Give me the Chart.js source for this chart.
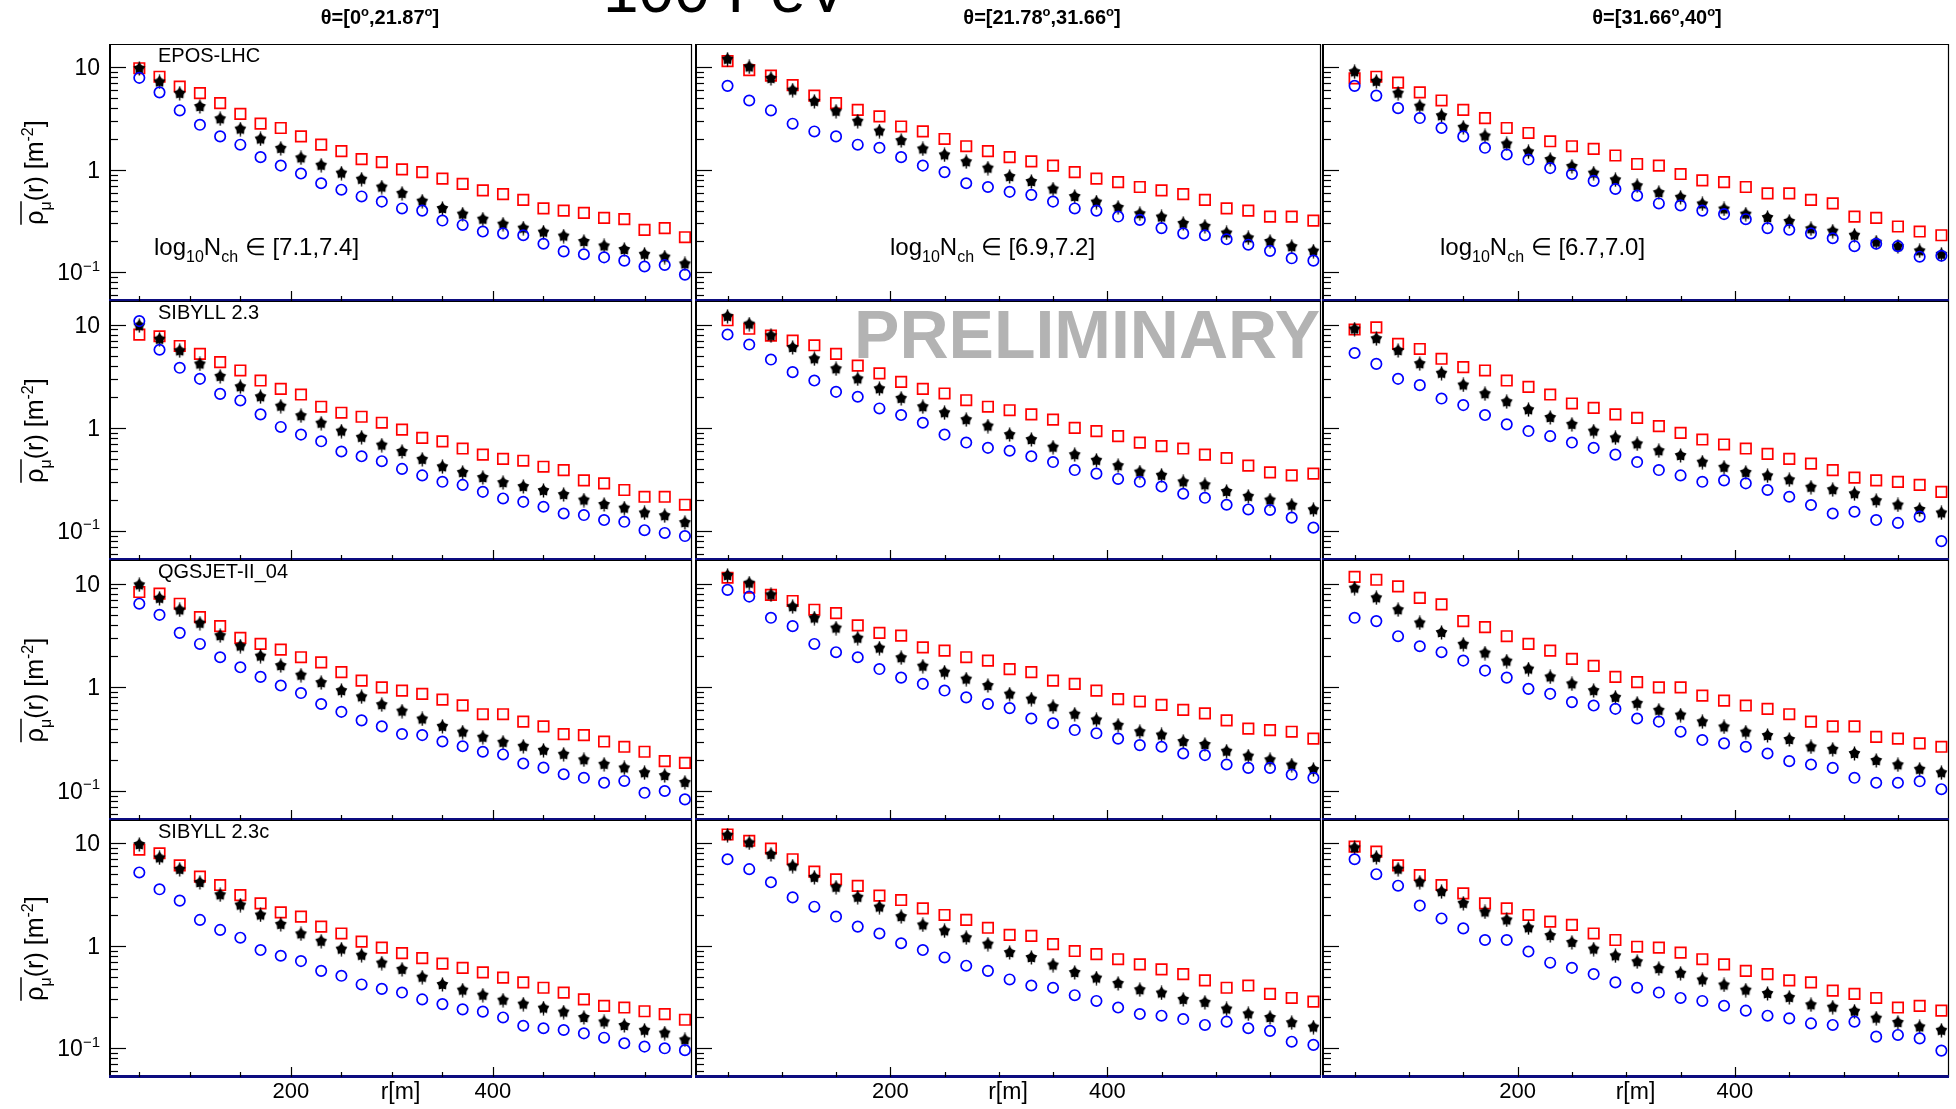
<!DOCTYPE html>
<html>
<head>
<meta charset="utf-8">
<script src="https://cdn.jsdelivr.net/npm/chart.js@4.4.1/dist/chart.umd.min.js"></script>
<style>
  html, body { margin: 0; padding: 0; background: #fff; }
  #page { position: relative; width: 1956px; height: 1109px; overflow: hidden; background: #fff; }
  #page canvas { position: absolute; }
</style>
</head>
<body>
<div id="page"></div>
<script>
// r [m] of every bin
const rBins = [50, 70, 90, 110, 130, 150, 170, 190, 210, 230, 250, 270, 290, 310, 330, 350, 370, 390, 410, 430, 450, 470, 490, 510, 530, 550, 570, 590];

const models = ['EPOS-LHC', 'SIBYLL 2.3', 'QGSJET-II_04', 'SIBYLL 2.3c'];
const thetaLo = ['0', '21.78', '31.66'];
const thetaHi = ['21.87', '31.66', '40'];
const nchBins = ['[7.1,7.4]', '[6.9,7.2]', '[6.7,7.0]'];
const yTickLabels = [[10, '10'], [1, '1'], [0.1, '10', '\u22121']];
const xTickLabels = [200, 400];

// measured muon density (black stars), one per zenith bin
const dataTheta1 = [9.75, 7.22, 5.58, 4.15, 3.15, 2.50, 2.00, 1.62, 1.31, 1.11, 0.93, 0.81, 0.68, 0.59, 0.495, 0.42, 0.37, 0.33, 0.295, 0.27, 0.247, 0.226, 0.20, 0.181, 0.167, 0.150, 0.141, 0.121];
const dataTheta2 = [12.0, 10.1, 7.8, 6.0, 4.66, 3.73, 2.98, 2.39, 1.93, 1.60, 1.40, 1.20, 1.04, 0.86, 0.77, 0.65, 0.55, 0.485, 0.43, 0.373, 0.347, 0.30, 0.281, 0.242, 0.217, 0.20, 0.178, 0.161];
const dataTheta3 = [9.05, 7.3, 5.6, 4.18, 3.38, 2.60, 2.14, 1.79, 1.50, 1.26, 1.08, 0.93, 0.80, 0.70, 0.60, 0.54, 0.465, 0.415, 0.37, 0.343, 0.314, 0.266, 0.252, 0.23, 0.197, 0.179, 0.162, 0.15];

// red squares, per zenith bin
const ironEPOS = [
  [9.8, 8.1, 6.5, 5.6, 4.47, 3.52, 2.82, 2.56, 2.12, 1.76, 1.52, 1.27, 1.19, 1.01, 0.95, 0.82, 0.73, 0.63, 0.58, 0.51, 0.42, 0.40, 0.38, 0.34, 0.33, 0.26, 0.27, 0.22],
  [11.5, 9.4, 8.3, 6.7, 5.3, 4.47, 3.85, 3.32, 2.65, 2.37, 2.00, 1.70, 1.52, 1.33, 1.21, 1.10, 0.95, 0.82, 0.76, 0.68, 0.63, 0.58, 0.51, 0.42, 0.40, 0.35, 0.35, 0.32],
  [7.8, 8.1, 7.1, 5.7, 4.75, 3.85, 3.2, 2.56, 2.29, 1.90, 1.70, 1.60, 1.38, 1.14, 1.10, 0.91, 0.79, 0.76, 0.68, 0.59, 0.59, 0.51, 0.47, 0.35, 0.34, 0.28, 0.25, 0.23]
];
const ironSIBYLL23 = [
  [8.0, 7.7, 6.2, 5.2, 4.32, 3.59, 2.87, 2.38, 2.10, 1.60, 1.40, 1.28, 1.12, 0.96, 0.80, 0.74, 0.63, 0.55, 0.50, 0.48, 0.42, 0.39, 0.31, 0.29, 0.25, 0.215, 0.215, 0.18],
  [11.0, 9.1, 7.8, 7.0, 6.3, 5.2, 4.0, 3.36, 2.79, 2.38, 2.15, 1.85, 1.60, 1.48, 1.35, 1.20, 1.0, 0.93, 0.83, 0.72, 0.665, 0.63, 0.55, 0.51, 0.43, 0.37, 0.346, 0.36],
  [8.95, 9.4, 6.5, 5.8, 4.66, 3.87, 3.59, 2.87, 2.49, 2.10, 1.72, 1.56, 1.35, 1.25, 1.04, 0.895, 0.77, 0.69, 0.63, 0.56, 0.50, 0.45, 0.39, 0.33, 0.31, 0.30, 0.28, 0.24]
];
const ironQGSJET = [
  [8.3, 8.0, 6.4, 4.75, 3.89, 3.0, 2.62, 2.31, 1.95, 1.74, 1.40, 1.16, 1.0, 0.93, 0.865, 0.76, 0.67, 0.55, 0.55, 0.467, 0.42, 0.354, 0.346, 0.30, 0.267, 0.239, 0.194, 0.187],
  [11.4, 9.15, 7.8, 6.8, 5.6, 5.2, 3.95, 3.35, 3.15, 2.43, 2.26, 1.95, 1.81, 1.50, 1.40, 1.16, 1.08, 0.93, 0.77, 0.73, 0.676, 0.605, 0.56, 0.48, 0.40, 0.387, 0.373, 0.32],
  [11.6, 10.9, 9.4, 7.3, 6.3, 4.35, 3.80, 3.11, 2.62, 2.26, 1.88, 1.61, 1.26, 1.12, 1.0, 1.0, 0.83, 0.745, 0.667, 0.62, 0.55, 0.467, 0.42, 0.42, 0.333, 0.32, 0.288, 0.267]
];
const ironSIBYLL23c = [
  [8.7, 8.0, 6.1, 4.73, 3.92, 3.13, 2.60, 2.12, 1.93, 1.54, 1.32, 1.10, 0.96, 0.85, 0.76, 0.67, 0.61, 0.55, 0.49, 0.44, 0.39, 0.35, 0.30, 0.26, 0.25, 0.23, 0.216, 0.19],
  [12.2, 10.6, 8.9, 7.0, 5.3, 4.46, 3.84, 3.09, 2.80, 2.32, 2.00, 1.79, 1.50, 1.28, 1.25, 1.04, 0.89, 0.83, 0.74, 0.66, 0.59, 0.53, 0.46, 0.39, 0.41, 0.34, 0.31, 0.285],
  [9.3, 8.3, 6.1, 4.91, 3.92, 3.25, 2.60, 2.32, 2.00, 1.72, 1.60, 1.32, 1.14, 0.98, 0.96, 0.86, 0.74, 0.66, 0.57, 0.53, 0.46, 0.44, 0.365, 0.34, 0.31, 0.25, 0.26, 0.233]
];

// blue circles, per zenith bin
const protonEPOS = [
  [7.9, 5.7, 3.8, 2.75, 2.12, 1.76, 1.33, 1.10, 0.92, 0.74, 0.64, 0.55, 0.49, 0.42, 0.40, 0.32, 0.29, 0.25, 0.24, 0.23, 0.19, 0.16, 0.15, 0.14, 0.13, 0.114, 0.118, 0.095],
  [6.6, 4.75, 3.8, 2.82, 2.37, 2.12, 1.76, 1.64, 1.33, 1.10, 0.95, 0.74, 0.68, 0.61, 0.57, 0.49, 0.42, 0.40, 0.35, 0.325, 0.27, 0.24, 0.23, 0.21, 0.186, 0.162, 0.137, 0.13],
  [6.6, 5.3, 4.0, 3.2, 2.56, 2.12, 1.64, 1.41, 1.26, 1.04, 0.91, 0.78, 0.65, 0.56, 0.47, 0.45, 0.40, 0.37, 0.33, 0.27, 0.26, 0.24, 0.215, 0.18, 0.19, 0.18, 0.142, 0.145]
];
const protonSIBYLL23 = [
  [10.8, 5.7, 3.81, 2.98, 2.13, 1.84, 1.35, 1.02, 0.86, 0.74, 0.59, 0.53, 0.475, 0.40, 0.346, 0.30, 0.28, 0.24, 0.207, 0.192, 0.172, 0.148, 0.143, 0.128, 0.123, 0.102, 0.096, 0.0895],
  [8.0, 6.4, 4.58, 3.46, 2.87, 2.23, 2.0, 1.54, 1.33, 1.12, 0.86, 0.72, 0.64, 0.60, 0.53, 0.466, 0.39, 0.36, 0.32, 0.30, 0.27, 0.23, 0.21, 0.18, 0.162, 0.16, 0.135, 0.108],
  [5.3, 4.16, 2.98, 2.59, 1.92, 1.66, 1.33, 1.08, 0.93, 0.83, 0.72, 0.64, 0.55, 0.466, 0.39, 0.346, 0.30, 0.31, 0.29, 0.25, 0.215, 0.179, 0.148, 0.154, 0.128, 0.12, 0.138, 0.08]
];
const protonQGSJET = [
  [6.4, 5.0, 3.35, 2.62, 1.95, 1.56, 1.26, 1.04, 0.88, 0.69, 0.58, 0.48, 0.42, 0.354, 0.346, 0.30, 0.27, 0.239, 0.225, 0.184, 0.168, 0.145, 0.134, 0.12, 0.125, 0.096, 0.1, 0.083],
  [8.7, 7.5, 4.68, 3.89, 2.62, 2.18, 1.95, 1.50, 1.24, 1.08, 0.93, 0.80, 0.69, 0.63, 0.50, 0.45, 0.387, 0.36, 0.32, 0.277, 0.267, 0.23, 0.222, 0.18, 0.167, 0.167, 0.144, 0.134],
  [4.68, 4.35, 3.11, 2.49, 2.18, 1.81, 1.45, 1.24, 0.966, 0.865, 0.72, 0.667, 0.62, 0.50, 0.467, 0.373, 0.31, 0.288, 0.267, 0.23, 0.194, 0.18, 0.167, 0.134, 0.12, 0.12, 0.124, 0.104]
];
const protonSIBYLL23c = [
  [5.2, 3.56, 2.76, 1.79, 1.43, 1.20, 0.91, 0.80, 0.71, 0.57, 0.51, 0.42, 0.38, 0.35, 0.30, 0.27, 0.24, 0.228, 0.20, 0.166, 0.157, 0.151, 0.14, 0.127, 0.112, 0.104, 0.1, 0.096],
  [7.0, 5.6, 4.17, 2.97, 2.41, 1.93, 1.54, 1.32, 1.06, 0.91, 0.77, 0.64, 0.57, 0.47, 0.41, 0.39, 0.33, 0.29, 0.25, 0.216, 0.208, 0.193, 0.169, 0.182, 0.157, 0.148, 0.116, 0.108],
  [7.0, 5.0, 3.86, 2.47, 1.85, 1.48, 1.14, 1.14, 0.88, 0.685, 0.61, 0.53, 0.44, 0.39, 0.35, 0.31, 0.29, 0.26, 0.233, 0.208, 0.196, 0.175, 0.169, 0.182, 0.13, 0.135, 0.125, 0.095]
];

const measured = [dataTheta1, dataTheta2, dataTheta3];
const ironByModel = [ironEPOS, ironSIBYLL23, ironQGSJET, ironSIBYLL23c];
const protonByModel = [protonEPOS, protonSIBYLL23, protonQGSJET, protonSIBYLL23c];

// pad geometry (page px)
const COL_L = [109, 695, 1322];
const COL_R = [692, 1321, 1949];
const ROW_T = [44, 301, 560, 820];
const ROW_B = [301, 560, 820, 1077];
const TITLE_X = [380, 1042, 1657];
const NCH_X = [154, 890, 1440];

const FONT = '"Liberation Sans", Arial, Helvetica, sans-serif';

const starMarker = (function () {
  const size = 15;
  const c = document.createElement('canvas');
  c.width = size;
  c.height = size;
  const g = c.getContext('2d');
  const m = size / 2;
  g.fillStyle = '#000';
  g.beginPath();
  for (let i = 0; i < 10; i++) {
    const a = -Math.PI / 2 + i * Math.PI / 5;
    const rr = i % 2 ? 4.1 : 6.2;
    g.lineTo(m + rr * Math.cos(a), m + rr * Math.sin(a));
  }
  g.closePath();
  g.fill();
  g.fillRect(m - 0.7, 0.5, 1.4, size - 1);
  return c;
})();

function richText(ctx, parts, x, y, size, align, bold) {
  const w8 = bold ? 'bold ' : '';
  const fontFor = k => w8 + (k ? Math.round(size * 0.65) : size) + 'px ' + FONT;
  let w = 0;
  for (const [t, k] of parts) {
    ctx.font = fontFor(k);
    w += ctx.measureText(t).width;
  }
  let cx = align === 'center' ? x - w / 2 : align === 'right' ? x - w : x;
  const start = cx;
  const widths = [];
  for (const [t, k] of parts) {
    ctx.font = fontFor(k);
    const dy = k === 'sub' ? size * 0.3 : k === 'sup' ? -size * 0.42 : 0;
    ctx.fillText(t, cx, y + dy);
    const tw = ctx.measureText(t).width;
    widths.push(tw);
    cx += tw;
  }
  return { start, widths };
}

function hline(ctx, x1, x2, y) {
  ctx.beginPath(); ctx.moveTo(x1, y); ctx.lineTo(x2, y); ctx.stroke();
}
function vline(ctx, x, y1, y2) {
  ctx.beginPath(); ctx.moveTo(x, y1); ctx.lineTo(x, y2); ctx.stroke();
}

const rootPad = {
  id: 'rootPad',
  afterDraw(chart, args, o) {
    const { ctx, chartArea: a, scales: { x, y } } = chart;
    ctx.save();
    ctx.textBaseline = 'alphabetic';
    ctx.fillStyle = '#000';
    ctx.strokeStyle = '#000';

    // frame
    ctx.lineWidth = 1.2;
    hline(ctx, a.left, a.right, a.top + 0.5);
    vline(ctx, a.right - 0.5, a.top, a.bottom);
    ctx.lineWidth = 2;
    vline(ctx, a.left + 1, a.top, a.bottom);
    ctx.strokeStyle = '#0c0c80';
    ctx.lineWidth = 3;
    hline(ctx, a.left, a.right, a.bottom - 0.5);
    ctx.strokeStyle = '#000';

    // log y ticks, inside
    ctx.lineWidth = 1.2;
    for (let e = -2; e <= 1; e++) {
      for (let d = 1; d <= 9; d++) {
        const v = d * Math.pow(10, e);
        if (v < y.min || v > y.max) continue;
        const py = Math.round(y.getPixelForValue(v)) + 0.5;
        hline(ctx, a.left, a.left + (d === 1 ? 17 : 9), py);
      }
    }
    // x ticks, inside
    for (let v = 50; v < x.max; v += 50) {
      const px = Math.round(x.getPixelForValue(v)) + 0.5;
      vline(ctx, px, a.bottom - (v % 200 === 0 ? 10 : 5), a.bottom);
    }

    // y tick labels and title on the first column
    if (o.col === 0) {
      for (const [v, t, sup] of yTickLabels) {
        const py = y.getPixelForValue(v) + 8;
        richText(ctx, sup ? [[t, ''], [sup, 'sup']] : [[t, '']], a.left - 9, py, 23, 'right');
      }
      ctx.save();
      ctx.translate(43, (a.top + a.bottom) / 2);
      ctx.rotate(-Math.PI / 2);
      const res = richText(ctx, [['\u03c1', ''], ['\u03bc', 'sub'], ['(r) [m', ''], ['-2', 'sup'], [']', '']], 0, 0, 25, 'center');
      ctx.lineWidth = 1.5;
      hline(ctx, res.start, res.start + res.widths[0] + res.widths[1], -22);
      ctx.restore();
      richText(ctx, [[models[o.row], '']], a.left + 49, a.top + 18, 20, 'left');
    }

    // x tick labels on the last row
    if (o.row === 3) {
      for (const v of xTickLabels) {
        richText(ctx, [[String(v), '']], x.getPixelForValue(v), a.bottom + 21, 22, 'center');
      }
      richText(ctx, [['r[m]', '']], (a.left + a.right) / 2, a.bottom + 22, 23, 'center');
    }

    // texts placed in page coordinates
    ctx.translate(-o.left, -o.top);
    if (o.row === 0) {
      richText(ctx, [['\u03b8=[' + thetaLo[o.col], ''], ['o', 'sup'], [',' + thetaHi[o.col], ''], ['o', 'sup'], [']', '']],
        TITLE_X[o.col], 24, 20, 'center', true);
      richText(ctx, [['log', ''], ['10', 'sub'], ['N', ''], ['ch', 'sub'], [' \u2208 ' + nchBins[o.col], '']],
        NCH_X[o.col], 255, 24, 'left');
      if (o.col === 0) {
        richText(ctx, [['100 PeV', '']], 603, 12, 64, 'left');
      }
    }
    if (o.row === 1 && o.col === 1) {
      ctx.fillStyle = '#b3b3b3';
      richText(ctx, [['PRELIMINARY', '']], 1320, 358, 68, 'right', true);
    }
    ctx.restore();
  }
};

function points(vals) {
  return vals.map((v, i) => ({ x: rBins[i], y: v }));
}

function makePad(row, col) {
  const page = document.getElementById('page');
  const left = col === 0 ? 0 : COL_L[col] - 3;
  const right = col === 2 ? 1956 : (row === 0 && col === 0 ? 900 : COL_R[col] + 3);
  const top = row === 0 ? 0 : ROW_T[row] - 3;
  const bottom = row === 3 ? 1109 : ROW_B[row] + 3;
  const cv = document.createElement('canvas');
  cv.width = right - left;
  cv.height = bottom - top;
  cv.style.left = left + 'px';
  cv.style.top = top + 'px';
  cv.style.width = (right - left) + 'px';
  cv.style.height = (bottom - top) + 'px';
  page.appendChild(cv);

  new Chart(cv, {
    type: 'scatter',
    data: {
      datasets: [
        {
          data: points(protonByModel[row][col]),
          pointStyle: 'circle',
          pointRadius: 5.2,
          borderColor: '#0000ff',
          backgroundColor: 'rgba(0,0,0,0)',
          borderWidth: 1.7
        },
        {
          data: points(measured[col]),
          pointStyle: starMarker,
          pointRadius: 6
        },
        {
          data: points(ironByModel[row][col]),
          pointStyle: 'rect',
          pointRadius: 7.4,
          borderColor: '#ff0000',
          backgroundColor: 'rgba(0,0,0,0)',
          borderWidth: 1.7
        }
      ]
    },
    options: {
      responsive: false,
      animation: false,
      events: [],
      layout: {
        autoPadding: false,
        padding: {
          left: COL_L[col] - left,
          right: right - COL_R[col],
          top: ROW_T[row] - top,
          bottom: bottom - ROW_B[row]
        }
      },
      scales: {
        x: { type: 'linear', min: 20, max: 597, display: false },
        y: { type: 'logarithmic', min: 0.0525, max: 16.9, display: false }
      },
      plugins: {
        legend: { display: false },
        tooltip: { enabled: false },
        rootPad: { row: row, col: col, left: left, top: top }
      }
    },
    plugins: [rootPad]
  });
}

document.addEventListener('DOMContentLoaded', () => {
  for (let r = 0; r < 4; r++) {
    for (let c = 0; c < 3; c++) {
      makePad(r, c);
    }
  }
});
</script>
</body>
</html>
